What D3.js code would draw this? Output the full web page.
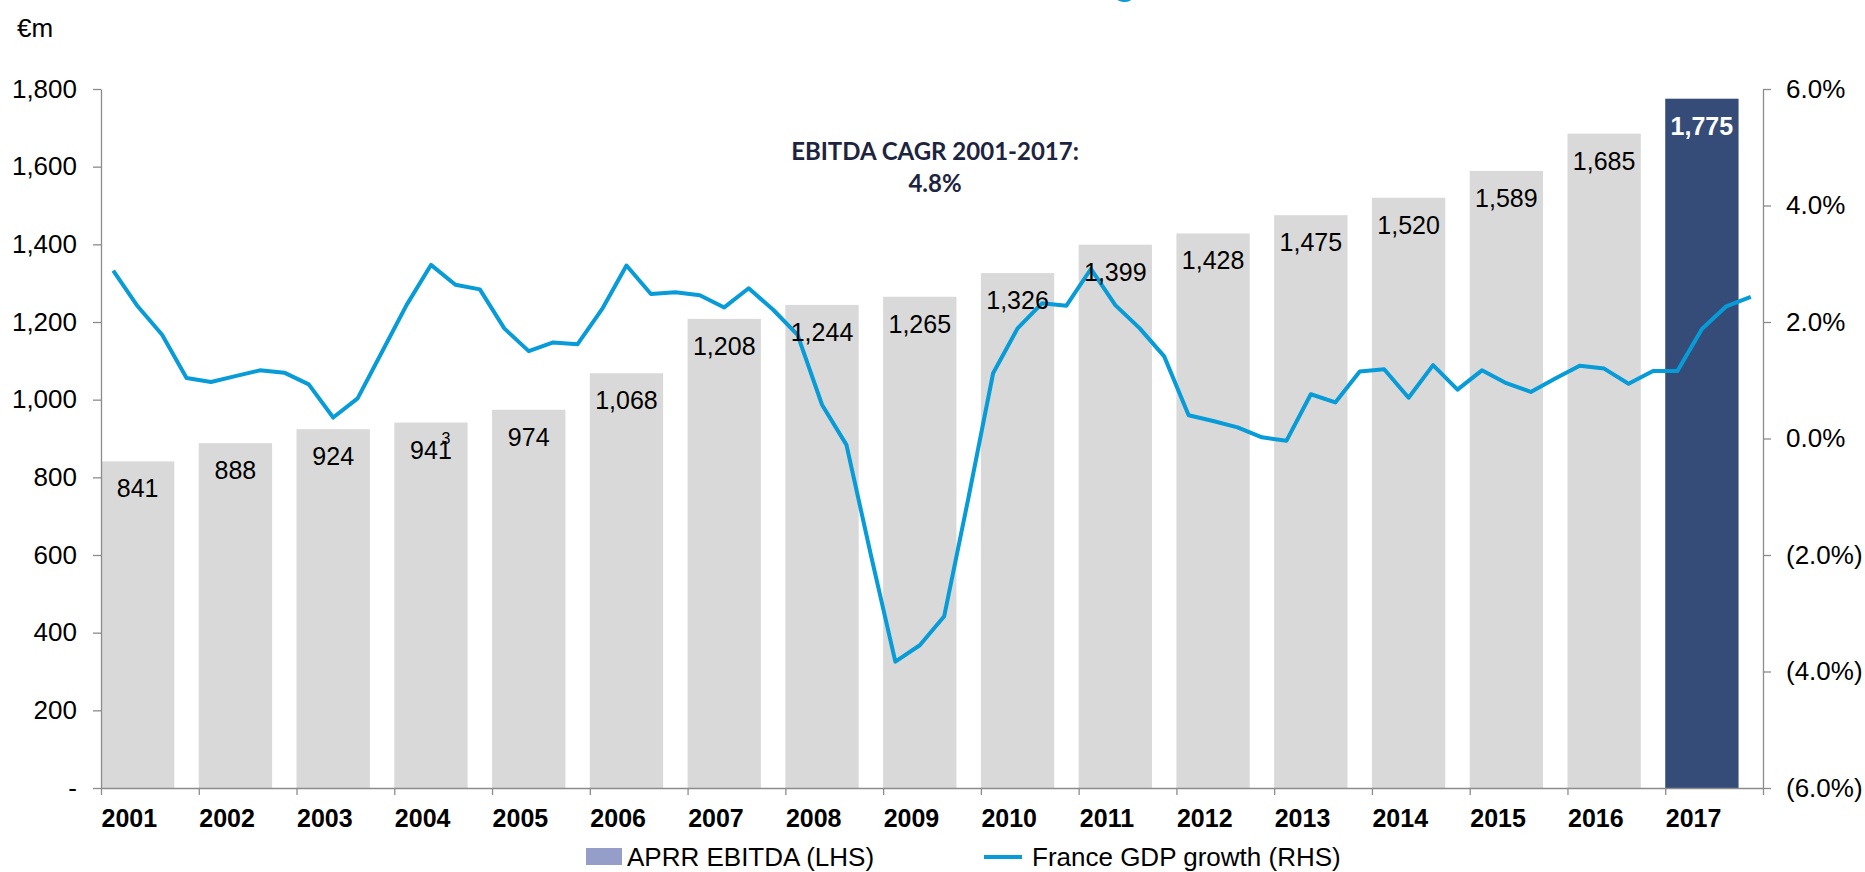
<!DOCTYPE html>
<html>
<head>
<meta charset="utf-8">
<script src="https://cdn.jsdelivr.net/npm/d3@7"></script>
<style>
  body { margin: 0; background: #fff; }
  text { font-family: "Liberation Sans", Arial, sans-serif; }
</style>
</head>
<body>
<script>
// APRR EBITDA (€m, LHS) and France GDP growth (quarterly, %, RHS)
var years = ["2001","2002","2003","2004","2005","2006","2007","2008","2009",
             "2010","2011","2012","2013","2014","2015","2016","2017"];
var ebitda = [841, 888, 924, 941, 974, 1068, 1208, 1244, 1265,
              1326, 1399, 1428, 1475, 1520, 1589, 1685, 1775];
// four quarters per year, 2001 Q1 .. 2017 Q4
var gdpGrowth = [
  2.88, 2.27, 1.78, 1.04,   // 2001
  0.97, 1.07, 1.17, 1.13,   // 2002
  0.93, 0.36, 0.69, 1.49,   // 2003
  2.29, 2.98, 2.64, 2.56,   // 2004
  1.89, 1.50, 1.65, 1.62,   // 2005
  2.22, 2.97, 2.48, 2.51,   // 2006
  2.46, 2.25, 2.58, 2.21,   // 2007
  1.78, 0.58, -0.11, -2.00, // 2008
  -3.83, -3.55, -3.05, -1.00, // 2009
  1.12, 1.89, 2.32, 2.28,   // 2010
  2.91, 2.29, 1.89, 1.41,   // 2011
  0.40, 0.30, 0.19, 0.02,   // 2012
  -0.04, 0.76, 0.62, 1.15,  // 2013
  1.19, 0.70, 1.26, 0.84,   // 2014
  1.17, 0.95, 0.80, 1.03,   // 2015
  1.25, 1.20, 0.94, 1.16,   // 2016
  1.16, 1.88, 2.27, 2.43    // 2017
];
var leftTicks = [0, 200, 400, 600, 800, 1000, 1200, 1400, 1600, 1800];
var rightTicks = [-6, -4, -2, 0, 2, 4, 6];
var footnoteYear = "2004", footnoteMark = "3";
var cagrText = ["EBITDA CAGR 2001-2017:", "4.8%"];
var legendLabels = ["APRR EBITDA (LHS)", "France GDP growth (RHS)"];

var width = 1865, height = 872;
var plotLeft = 101, plotRight = 1763, plotTop = 89, plotBottom = 788;

var axisColor = "#8c8c8c",
    barGrey = "#d9d9d9",
    barNavy = "#354c78",
    lineBlue = "#079bd7";

var svg = d3.select("body").append("svg")
    .attr("width", width)
    .attr("height", height);

var x = d3.scaleBand().domain(years).range([plotLeft, plotRight]);
var bw = x.bandwidth();
var xEdge = d3.scaleLinear().domain([0, years.length]).range([plotLeft, plotRight]);

var yL = d3.scaleLinear().domain([0, 1800]).range([plotBottom, plotTop]);
var yR = d3.scaleLinear().domain([-6, 6]).range([plotBottom, plotTop]);

// title (mostly above the visible page)
var title = svg.append("text")
    .attr("y", -6)
    .style("font-size", "38px")
    .style("font-weight", "bold")
    .style("fill", lineBlue)
    .text("APRR EBITDA vs. France GDP growth");
var gIdx = title.text().indexOf("g");
var gOff = title.node().getSubStringLength(0, gIdx);
title.attr("x", 1113 - gOff);

// unit label
svg.append("text")
    .attr("x", 17).attr("y", 37)
    .style("font-size", "26px")
    .text("€m");

// bars
svg.selectAll(".bar")
    .data(ebitda)
    .enter().append("rect")
    .attr("class", "bar")
    .attr("x", function(d, i) { return x(years[i]); })
    .attr("y", function(d) { return yL(d); })
    .attr("width", bw * 0.75)
    .attr("height", function(d) { return yL(0) - yL(d); })
    .style("fill", function(d, i) { return i == years.length - 1 ? barNavy : barGrey; });

// axes
var gLeft = svg.append("g")
    .attr("transform", "translate(" + plotLeft + ",0)")
    .call(d3.axisLeft(yL).tickValues(leftTicks).tickSize(8).tickSizeOuter(0).tickPadding(16)
      .tickFormat(function(d) { return d == 0 ? "-" : d3.format(",")(d); }));

var gRight = svg.append("g")
    .attr("transform", "translate(" + plotRight + ",0)")
    .call(d3.axisRight(yR).tickValues(rightTicks).tickSize(8).tickSizeOuter(0).tickPadding(15)
      .tickFormat(function(d) {
        var s = Math.abs(d).toFixed(1) + "%";
        return d < 0 ? "(" + s + ")" : s;
      }));

var gBottom = svg.append("g")
    .attr("transform", "translate(0," + plotBottom + ")")
    .call(d3.axisBottom(xEdge).tickValues(d3.range(years.length + 1)).tickSize(7)
      .tickSizeOuter(0).tickFormat(""));

[gLeft, gRight, gBottom].forEach(function(g) {
  g.selectAll("path, line").style("stroke", axisColor).style("stroke-width", 1.3);
  g.selectAll("text").style("font-size", "26px").style("fill", "#000")
    .style("font-family", "'Liberation Sans', Arial, sans-serif");
});

// year labels
svg.selectAll(".year")
    .data(years)
    .enter().append("text")
    .attr("class", "year")
    .attr("x", function(d) { return x(d) + bw * 0.29; })
    .attr("y", 827)
    .attr("text-anchor", "middle")
    .style("font-size", "25px")
    .style("font-weight", "bold")
    .text(function(d) { return d; });

// GDP line
var line = d3.line()
    .x(function(d, i) { return x(years[Math.floor(i / 4)]) + (i % 4 + 0.5) / 4 * bw; })
    .y(function(d) { return yR(d); });

svg.append("path")
    .datum(gdpGrowth)
    .attr("d", line)
    .style("fill", "none")
    .style("stroke", lineBlue)
    .style("stroke-width", 4)
    .style("stroke-linejoin", "round");

// bar labels
svg.selectAll(".lbl")
    .data(ebitda)
    .enter().append("text")
    .attr("class", "lbl")
    .attr("x", function(d, i) { return x(years[i]) + bw * 0.375; })
    .attr("y", function(d) { return yL(d) + 36; })
    .attr("text-anchor", "middle")
    .style("font-size", "25px")
    .style("font-weight", function(d, i) { return i == years.length - 1 ? "bold" : "normal"; })
    .style("fill", function(d, i) { return i == years.length - 1 ? "#fff" : "#000"; })
    .text(function(d) { return d3.format(",")(d); });

var fi = years.indexOf(footnoteYear);
svg.append("text")
    .attr("x", x(footnoteYear) + bw * 0.375 + 15)
    .attr("y", yL(ebitda[fi]) + 36 - 15)
    .attr("text-anchor", "middle")
    .style("font-size", "16px")
    .text(footnoteMark);

// CAGR annotation
svg.selectAll(".cagr")
    .data(cagrText)
    .enter().append("text")
    .attr("class", "cagr")
    .attr("x", 935)
    .attr("y", function(d, i) { return 160 + i * 32; })
    .attr("text-anchor", "middle")
    .style("font-family", "Lato, 'Open Sans', sans-serif")
    .style("font-size", "24px")
    .style("font-weight", "bold")
    .style("fill", "#1d2440")
    .text(function(d) { return d; });

// legend
svg.append("rect")
    .attr("x", 586).attr("y", 848)
    .attr("width", 36).attr("height", 17)
    .style("fill", "#959dc9");
svg.append("text")
    .attr("x", 627).attr("y", 866)
    .style("font-size", "26px")
    .text(legendLabels[0]);
svg.append("line")
    .attr("x1", 984).attr("x2", 1022)
    .attr("y1", 857).attr("y2", 857)
    .style("stroke", lineBlue)
    .style("stroke-width", 4);
svg.append("text")
    .attr("x", 1032).attr("y", 866)
    .style("font-size", "26px")
    .text(legendLabels[1]);
</script>
</body>
</html>
